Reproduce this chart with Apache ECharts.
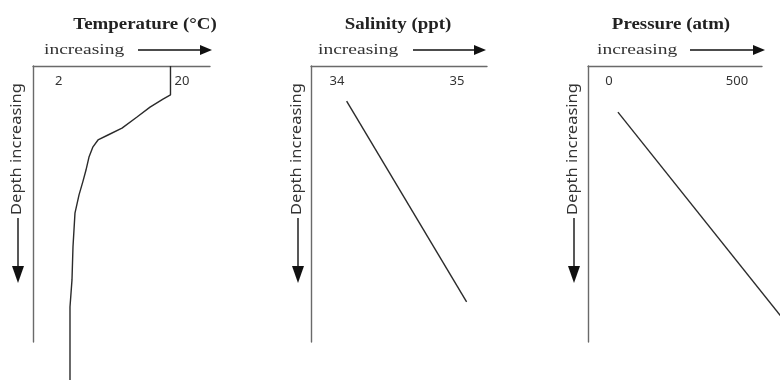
<!DOCTYPE html>
<html>
<head>
<meta charset="utf-8">
<script src="https://cdn.jsdelivr.net/npm/echarts@6/dist/echarts.min.js"></script>
<style>
  html, body { margin: 0; padding: 0; background: #fff; }
  #chart { width: 780px; height: 380px; }
</style>
</head>
<body>
<div id="chart"></div>
<script>
// Panel titles
const titles = ['Temperature (°C)', 'Salinity (ppt)', 'Pressure (atm)'];
const xCaption = 'increasing';
const depthCaption = 'Depth increasing';

// Tick labels along each top axis
const tempTicks = [2, 20];
const salTicks = [34, 35];
const presTicks = [0, 500];

// Depth on a relative 0–100 scale (surface = 0, bottom of axis = 100)
const tempDepth = [0, 10.5, 12.0, 14.9, 18.5, 22.5, 25.0, 26.8, 29.3, 33.0, 37.7, 41.7, 46.7, 53.3, 65.6, 77.5, 87.3, 113.8];
const tempValues = [20.0, 20.0, 18.87, 16.92, 14.96, 12.70, 10.59, 9.09, 8.33, 7.73, 7.28, 6.83, 6.23, 5.62, 5.32, 5.17, 4.87, 4.87];

const salDepth = [12.7, 85.5];
const salValues = [34.08, 35.08];

const presDepth = [16.7, 100];
const presValues = [35, 752];

const pair = (xs, ys) => xs.map((x, i) => [x, ys[i]]);

const ink = '#2b2b2b';
const axisGray = '#6a6a6a';
const serif = '"Liberation Serif", "Times New Roman", serif';
const sans = '"Noto Sans", "DejaVu Sans", sans-serif';

const panels = [
  { left: 33, width: 177, min: -0.7, max: 25.95, ticks: tempTicks, align: 'left', pad: [0, 0, 0, 4] },
  { left: 311, width: 176, min: 33.783, max: 35.25, ticks: salTicks, align: 'center', pad: 0 },
  { left: 588, width: 174, min: -82, max: 598, ticks: presTicks, align: 'center', pad: 0 }
];

const grid = panels.map(p => ({ left: p.left, top: 66, width: p.width, height: 276 }));
// Pressure keeps running to the right edge: same scale as panel 3, plot area widened to the edge, no visible axes
const presScale = panels[2].width / (panels[2].max - panels[2].min);
const wideWidth = 780 - panels[2].left;
grid.push({ left: panels[2].left, top: 66, width: wideWidth, height: 276 });

const xAxis = panels.map((p, i) => ({
  type: 'value', gridIndex: i, position: 'top', min: p.min, max: p.max,
  axisLine: { show: true, onZero: false, lineStyle: { color: axisGray, width: 1.4 } },
  axisTick: { show: false },
  splitLine: { show: false },
  axisLabel: {
    show: true, inside: true, margin: 9, customValues: p.ticks,
    align: p.align, padding: p.pad,
    color: '#333', fontFamily: sans, fontSize: 13
  }
}));
xAxis.push({
  type: 'value', gridIndex: 3, min: panels[2].min, max: panels[2].min + wideWidth / presScale,
  show: false
});

const yAxis = panels.map((p, i) => ({
  type: 'value', gridIndex: i, inverse: true, min: 0, max: 100,
  axisLine: { show: true, onZero: false, lineStyle: { color: axisGray, width: 1.4 } },
  axisTick: { show: false }, axisLabel: { show: false }, splitLine: { show: false }
}));
yAxis.push({ type: 'value', gridIndex: 3, inverse: true, min: 0, max: 100, show: false });

const lineSeries = (i, data) => ({
  type: 'line', xAxisIndex: i, yAxisIndex: i, data: data,
  showSymbol: false, clip: false, silent: true,
  lineStyle: { color: ink, width: 1.4 }
});

// Captions and arrows around each panel
const graphics = [];
const titleX = [145, 398, 671];
const titleScale = [1.18, 1.18, 1.18];
const capLeft = [44, 318, 597];
const arrowX = [[138, 212], [413, 486], [690, 765]];
const depthX = [17, 297, 573];

titles.forEach((t, i) => {
  graphics.push({
    type: 'text', x: titleX[i], y: 25, scaleX: titleScale[i],
    style: { text: t, fill: '#222', font: 'bold 16px ' + serif, align: 'center', verticalAlign: 'middle' }
  });
  graphics.push({
    type: 'text', x: capLeft[i], y: 50, scaleX: 1.3,
    style: { text: xCaption, fill: '#333', font: '15px ' + serif, align: 'left', verticalAlign: 'middle' }
  });
  const [a, b] = arrowX[i];
  graphics.push({
    type: 'line', shape: { x1: a, y1: 50, x2: b - 10, y2: 50 },
    style: { stroke: '#111', lineWidth: 1.4 }
  });
  graphics.push({
    type: 'polygon', shape: { points: [[b - 12, 45], [b, 50], [b - 12, 55]] },
    style: { fill: '#111' }
  });
  graphics.push({
    type: 'text', x: depthX[i], y: 149, rotation: Math.PI / 2, scaleX: 1.1,
    style: { text: depthCaption, fill: '#333', font: '15px ' + sans, align: 'center', verticalAlign: 'middle' }
  });
  graphics.push({
    type: 'line', shape: { x1: depthX[i] + 1, y1: 218, x2: depthX[i] + 1, y2: 270 },
    style: { stroke: '#111', lineWidth: 1.4 }
  });
  graphics.push({
    type: 'polygon', shape: { points: [[depthX[i] - 5, 266], [depthX[i] + 7, 266], [depthX[i] + 1, 283]] },
    style: { fill: '#111' }
  });
});

const chart = echarts.init(document.getElementById('chart'), null, { renderer: 'canvas' });
chart.setOption({
  animation: false,
  backgroundColor: '#fff',
  grid: grid,
  xAxis: xAxis,
  yAxis: yAxis,
  series: [
    lineSeries(0, pair(tempValues, tempDepth)),
    lineSeries(1, pair(salValues, salDepth)),
    lineSeries(3, pair(presValues, presDepth))
  ],
  graphic: graphics
});
</script>
</body>
</html>
